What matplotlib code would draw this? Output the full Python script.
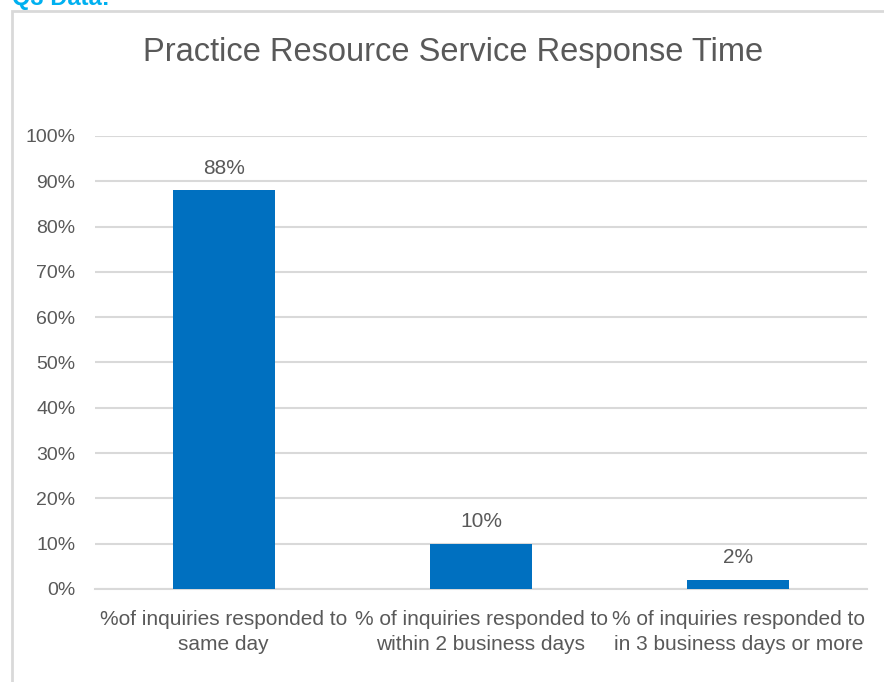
import numpy as np
from matplotlib import pyplot as plt
from matplotlib.patches import Rectangle
from matplotlib.ticker import PercentFormatter

# Response time buckets and the share of inquiries in each
categories = [
    '%of inquiries responded to\nsame day',
    '% of inquiries responded to\nwithin 2 business days',
    '% of inquiries responded to\nin 3 business days or more',
]
shares = [0.88, 0.10, 0.02]
share_labels = ['88%', '10%', '2%']
y_ticks = np.arange(0, 1.01, 0.1)

TEXT_GREY = '#595959'
GRID_GREY = '#D9D9D9'
BAR_BLUE = '#0070C0'

plt.rcParams['font.family'] = ['Liberation Sans', 'DejaVu Sans']

fig = plt.figure(figsize=(8.84, 6.82), dpi=100)
ax = fig.add_axes([0.1075, 0.1364, 0.8733, 0.6642])

x = np.arange(len(categories))
bars = ax.bar(x, shares, width=0.396, color=BAR_BLUE, zorder=3)

for bar, lbl in zip(bars, share_labels):
    ax.annotate(lbl,
                (bar.get_x() + bar.get_width() / 2, bar.get_height()),
                xytext=(0, 9), textcoords='offset points',
                ha='center', va='bottom', fontsize=15, color=TEXT_GREY)

ax.set_xlim(-0.5, len(categories) - 0.5)
ax.set_ylim(0, 1)
ax.set_yticks(y_ticks)
ax.yaxis.set_major_formatter(PercentFormatter(1.0, decimals=0))
ax.set_xticks(x)
ax.set_xticklabels(categories, fontsize=15, color=TEXT_GREY, linespacing=1.42)
ax.tick_params(axis='y', labelsize=14, labelcolor=TEXT_GREY, length=0, pad=14)
ax.tick_params(axis='x', length=0, pad=15)

ax.grid(axis='y', color=GRID_GREY, linewidth=1.5, zorder=0)
for side in ['top', 'right', 'left']:
    ax.spines[side].set_visible(False)
ax.spines['bottom'].set_color(GRID_GREY)
ax.spines['bottom'].set_linewidth(1.5)

# title sits centred on the whole chart frame, not the plot area
fig.text(453 / 884, (682 - 52) / 682, 'Practice Resource Service Response Time',
         fontsize=23.5, color=TEXT_GREY, ha='center', va='center')

# chart frame, open on the right and bottom
fig.add_artist(Rectangle((12 / 884, -0.05), 1.0, 0.05 + (682 - 11) / 682,
                         transform=fig.transFigure, fill=False,
                         edgecolor=GRID_GREY, linewidth=2))

fig.text(12 / 884, 677 / 682, 'Q3 Data:', fontsize=17, fontweight='bold',
         color='#00B0F0', va='baseline', ha='left')

plt.savefig('out.png', dpi=100, facecolor='white')
